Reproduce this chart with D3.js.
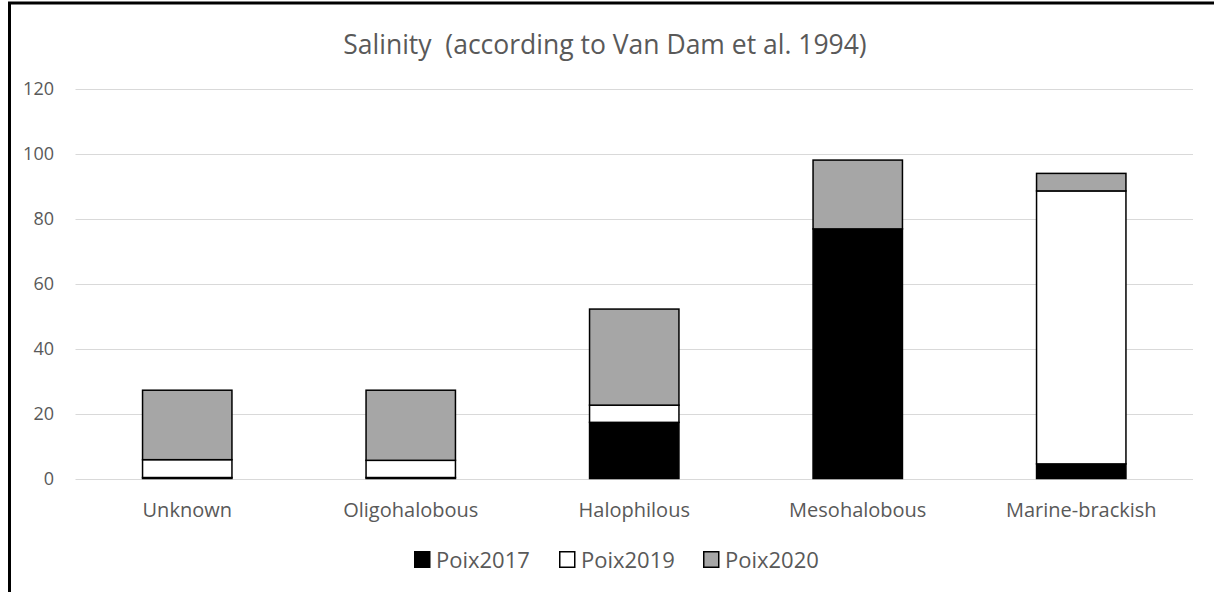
<!DOCTYPE html>
<html>
<head>
<meta charset="utf-8">
<script src="https://cdn.jsdelivr.net/npm/d3@7.9.0/dist/d3.min.js"></script>
<style>
  body { margin: 0; background: #fff; }
  svg { display: block; font-family: "Open Sans", sans-serif; }
</style>
</head>
<body>
<svg id="chart" width="1214" height="592"></svg>
<script>
const categories = ["Unknown", "Oligohalobous", "Halophilous", "Mesohalobous", "Marine-brackish"];
const seriesNames = ["Poix2017", "Poix2019", "Poix2020"];
const poix2017 = [0.3, 0.3, 17.3, 76.9, 4.5];
const poix2019 = [5.5, 5.3, 5.3, 0, 84.1];
const poix2020 = [21.4, 21.6, 29.6, 21.2, 5.4];
const yTicks = [0, 20, 40, 60, 80, 100, 120];

const colors = { Poix2017: "#000000", Poix2019: "#ffffff", Poix2020: "#a6a6a6" };

const rows = categories.map((c, i) => ({
  category: c,
  Poix2017: poix2017[i],
  Poix2019: poix2019[i],
  Poix2020: poix2020[i]
}));

const svg = d3.select("#chart");

// outer frame (only top and left visible in the crop)
svg.append("rect")
  .attr("x", 9.5).attr("y", 3)
  .attr("width", 1300).attr("height", 700)
  .attr("fill", "none").attr("stroke", "#000").attr("stroke-width", 3);

const x = d3.scaleBand().domain(categories).range([75.5, 1193]).paddingInner(0.6).paddingOuter(0.3);
const y = d3.scaleLinear().domain([0, 120]).range([478.5, 89]);

// gridlines
svg.append("g")
  .selectAll("line")
  .data(yTicks)
  .join("line")
  .attr("x1", 75.5).attr("x2", 1193)
  .attr("y1", d => Math.round(y(d)) + 0.5).attr("y2", d => Math.round(y(d)) + 0.5)
  .attr("stroke", "#d9d9d9").attr("stroke-width", 1);

// y tick labels
svg.append("g")
  .selectAll("text")
  .data(yTicks)
  .join("text")
  .attr("x", 54).attr("y", d => y(d))
  .attr("dy", "0.35em")
  .attr("text-anchor", "end")
  .attr("font-size", 18)
  .attr("fill", "#595959")
  .text(d => d);

// stacked bars
const stack = d3.stack().keys(seriesNames);
const stacked = stack(rows);

svg.append("g")
  .selectAll("g")
  .data(stacked)
  .join("g")
  .attr("fill", d => colors[d.key])
  .selectAll("rect")
  .data(d => d.filter(p => p[1] - p[0] > 0))
  .join("rect")
  .attr("x", d => x(d.data.category))
  .attr("width", x.bandwidth())
  .attr("y", d => y(d[1]))
  .attr("height", d => y(d[0]) - y(d[1]))
  .attr("stroke", "#000")
  .attr("stroke-width", 1.5);

// category labels
svg.append("g")
  .selectAll("text")
  .data(categories)
  .join("text")
  .attr("x", d => x(d) + x.bandwidth() / 2)
  .attr("y", 517)
  .attr("text-anchor", "middle")
  .attr("font-size", 20)
  .attr("fill", "#595959")
  .text(d => d);

// title
svg.append("text")
  .attr("x", 605).attr("y", 54)
  .attr("text-anchor", "middle")
  .attr("font-size", 26.5)
  .attr("fill", "#595959")
  .attr("xml:space", "preserve")
  .text("Salinity  (according to Van Dam et al. 1994)");

// legend
const legendX = [414, 559, 703];
const legend = svg.append("g")
  .selectAll("g")
  .data(seriesNames)
  .join("g")
  .attr("transform", (d, i) => `translate(${legendX[i]},551)`);

legend.append("rect")
  .attr("x", 0.75).attr("y", 0.75)
  .attr("width", 15).attr("height", 15.5)
  .attr("fill", d => colors[d])
  .attr("stroke", "#000").attr("stroke-width", 1.5);

legend.append("text")
  .attr("x", 22).attr("y", 16.5)
  .attr("font-size", 22)
  .attr("fill", "#595959")
  .text(d => d);
</script>
</body>
</html>
